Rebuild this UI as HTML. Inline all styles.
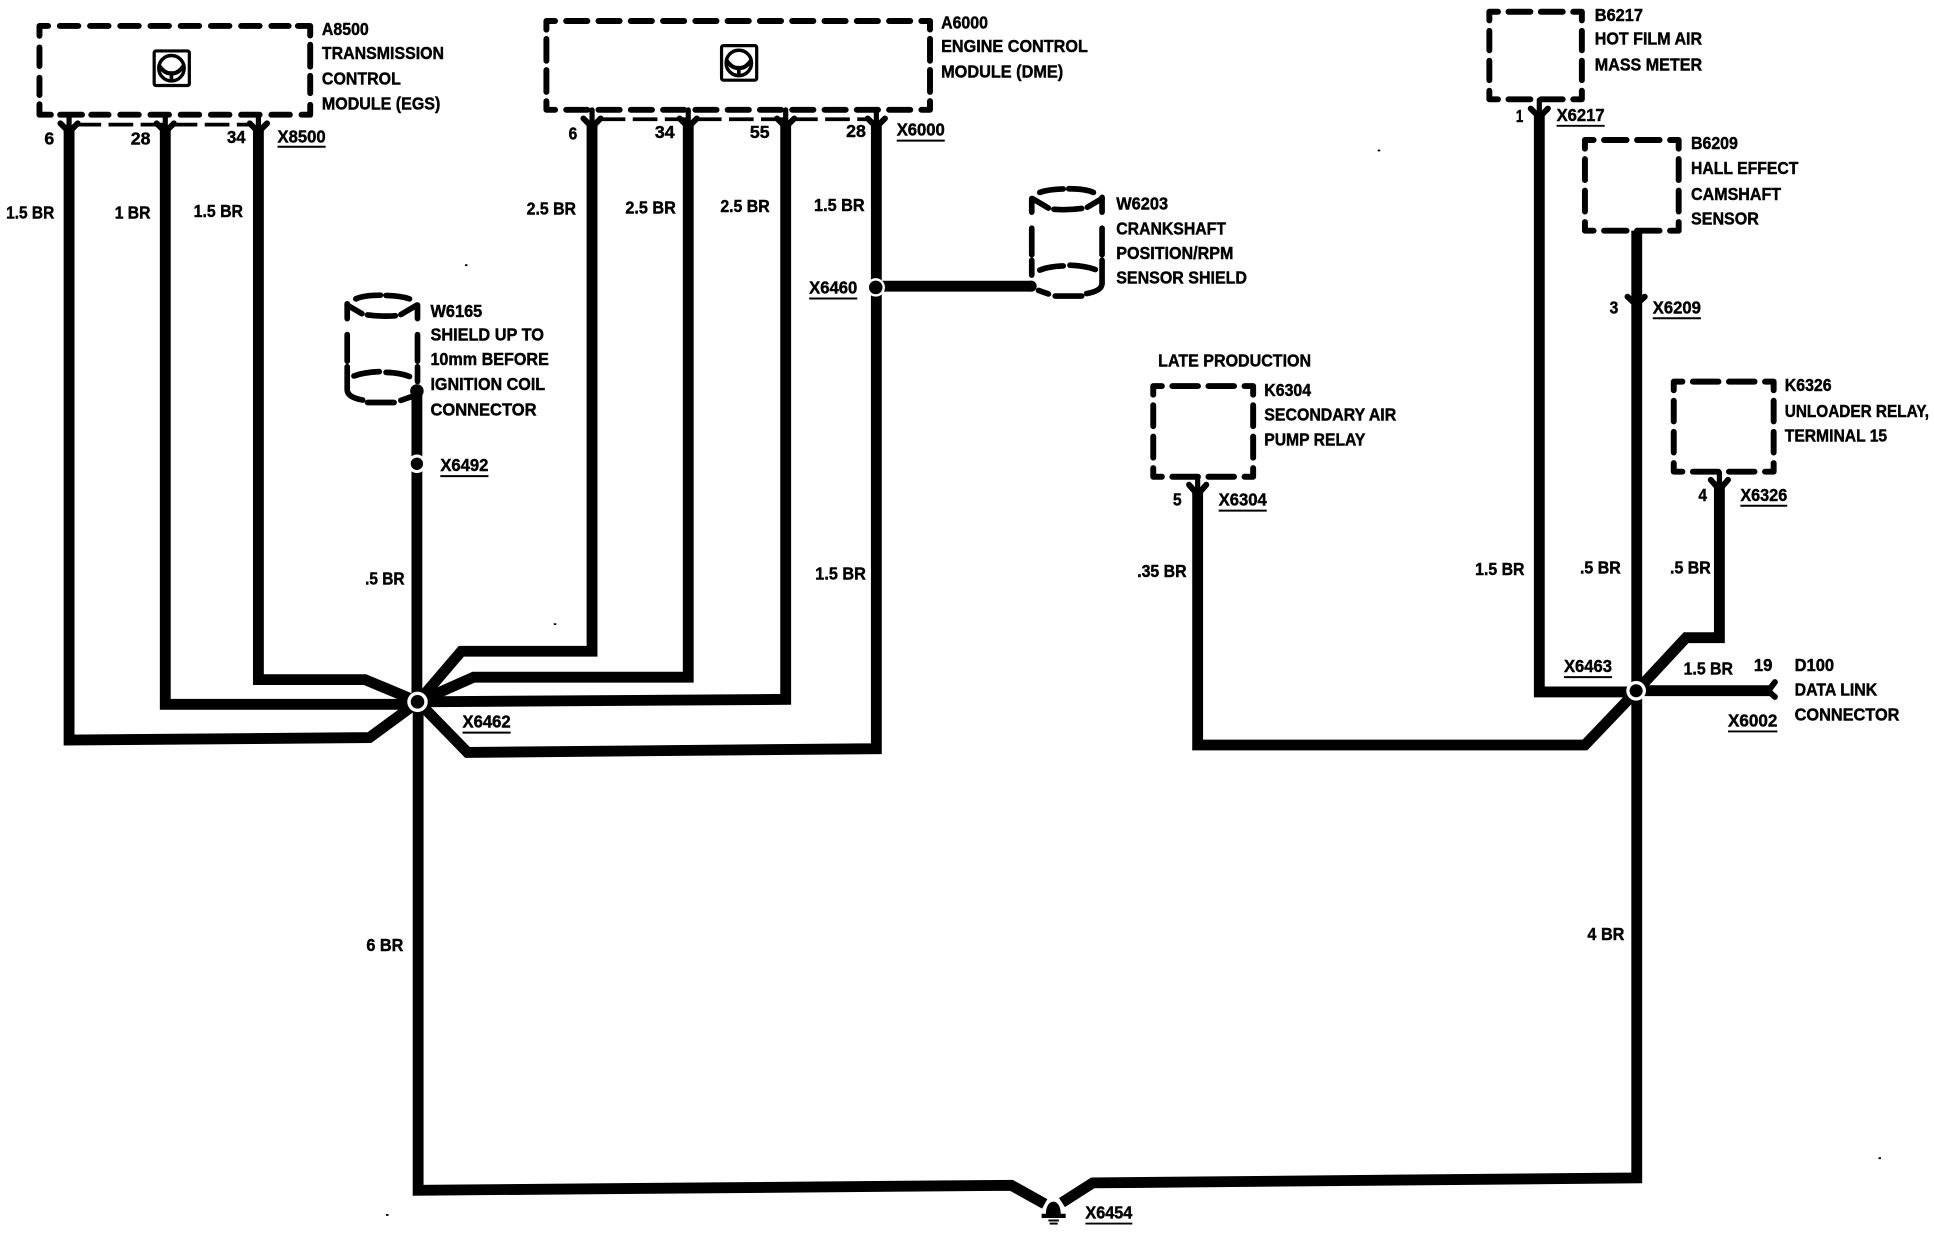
<!DOCTYPE html>
<html><head><meta charset="utf-8"><style>
html,body{margin:0;padding:0;background:#fff}
svg{display:block}
text{font-family:"Liberation Sans",sans-serif;font-weight:bold;font-size:14px;fill:#000;stroke:#000;stroke-width:.35}
.w{fill:none;stroke:#000;stroke-width:8.8;stroke-linejoin:miter}
.b{fill:none;stroke:#000;stroke-width:4.8;stroke-linecap:round;stroke-linejoin:round}
.c{fill:none;stroke:#000;stroke-width:4.6;stroke-linecap:round}
.d{fill:none;stroke:#000;stroke-width:3;stroke-dasharray:20 6}
.a{fill:none;stroke:#000;stroke-width:4.8;stroke-linecap:round;stroke-linejoin:miter}
.s{fill:none;stroke:#000;stroke-width:4.2;stroke-linecap:round}
.u{stroke:#000;stroke-width:1.6}
</style></head><body>
<svg width="1934" height="1248" viewBox="0 0 1568 1011.8" xmlns="http://www.w3.org/2000/svg">
<rect x="0" y="0" width="1568" height="1012" fill="#fff"/>
<!-- wires left star -->
<path class="w" d="M56 104V600L299.5 598L339 569"/>
<path class="w" d="M134 104V571H339"/>
<path class="w" d="M209.5 104V551H296L339 569"/>
<path class="w" d="M480 100V528H374L339 569"/>
<path class="w" d="M558 100V549H384L339 569"/>
<path class="w" d="M637 100V567L339 569"/>
<path class="w" d="M710.5 100V607L379 610L339 569"/>
<path class="w" d="M338 317V569"/>
<path class="w" d="M339 569V965L820 961L847 976"/>
<path class="w" d="M861 975L886 959L1327 955V187"/>
<path class="w" d="M710 232H836"/>
<!-- wires right -->
<path class="w" d="M1248 92V561H1327"/>
<path class="w" d="M971 398V604H1285L1327 560"/>
<path class="w" d="M1394 394V517H1367L1327 560"/>
<path class="w" d="M1327 560H1435"/>
<!-- boxes -->
<path class="b" d="M32 28V21H251.5V93H32Z" stroke-dasharray="14 9.5 15 9.5 15 9.5 15 9.5 15 9.5 15 9.5 15 9.5 15 9.5 14 7.5 17.75 7.5 17.75 7.5 14 9.5 15 9.5 15 9.5 15 9.5 15 9.5 15 9.5 15 9.5 15 9.5 14 7.5 17.75 7.5 17.75 7.5"/>
<path class="b" d="M443 24V17H754V89H443Z" stroke-dasharray="14 9 17.18 9 17.18 9 17.18 9 17.18 9 17.18 9 17.18 9 17.18 9 17.18 9 17.18 9 17.18 9 17.18 9 14 7.5 17.75 7.5 17.75 7.5 14 9 17.18 9 17.18 9 17.18 9 17.18 9 17.18 9 17.18 9 17.18 9 17.18 9 17.18 9 17.18 9 17.18 9 14 7.5 17.75 7.5 17.75 7.5"/>
<path class="b" d="M1207.5 16.5V9.5H1282.5V80.5H1207.5Z" stroke-dasharray="14 8.5 17.75 8.5 17.75 8.5 14 8.5 15.75 8.5 15.75 8.5 14 8.5 17.75 8.5 17.75 8.5 14 8.5 15.75 8.5 15.75 8.5"/>
<path class="b" d="M1285 120.5V113.5H1361V187H1285Z" stroke-dasharray="14 8.5 18.25 8.5 18.25 8.5 14 8.5 17 8.5 17 8.5 14 8.5 18.25 8.5 18.25 8.5 14 8.5 17 8.5 17 8.5"/>
<path class="b" d="M935 320V313H1016V386.5H935Z" stroke-dasharray="14 8.5 20.75 8.5 20.75 8.5 14 8.5 17 8.5 17 8.5 14 8.5 20.75 8.5 20.75 8.5 14 8.5 17 8.5 17 8.5"/>
<path class="b" d="M1357 316.4V309.4H1438V382.4H1357Z" stroke-dasharray="14 8.5 20.75 8.5 20.75 8.5 14 8.5 16.75 8.5 16.75 8.5 14 8.5 20.75 8.5 20.75 8.5 14 8.5 16.75 8.5 16.75 8.5"/>
<path class="d" d="M62 101H205"/>
<path class="d" d="M487 96.7H704"/>
<!-- cylinder W6203 -->
<g id="cyl">
<path class="c" d="M843 156Q850 153.5 862 153.2M866.5 153Q880 153 886.5 156"/>
<path class="c" d="M837 161L850 168.7M854.5 169.7Q866 170.5 877 169M881.6 168L893.5 161"/>
<path class="c" d="M836.5 161V172M836.5 185V206.5M836.5 211V223"/>
<path class="c" d="M893.5 160V172M893.5 185V206.5M893.5 211V230Q893 236 881 238"/>
<path class="c" d="M843 219Q850 216 862 215.6M867.5 215Q880 215.5 888 218.5"/>
<path class="c" d="M842 235.5L850 238.3M855.5 240H877"/>
</g>
<g transform="translate(1175,86.3) scale(-1,1)">
<path class="c" d="M843 156Q850 153.5 862 153.2M866.5 153Q880 153 886.5 156"/>
<path class="c" d="M837 161L850 168.7M854.5 169.7Q866 170.5 877 169M881.6 168L893.5 161"/>
<path class="c" d="M836.5 161V172M836.5 185V206.5M836.5 211V223"/>
<path class="c" d="M893.5 160V172M893.5 185V206.5M893.5 211V230Q893 236 881 238"/>
<path class="c" d="M843 219Q850 216 862 215.6M867.5 215Q880 215.5 888 218.5"/>
<path class="c" d="M842 235.5L850 238.3M855.5 240H877"/>
</g>
<!-- icons -->
<g fill="none" stroke="#000">
<rect x="585" y="37" width="28.5" height="28" rx="1.5" stroke-width="2.6"/>
<circle cx="599" cy="51" r="10.3" stroke-width="2.8"/>
<path d="M589 49Q594 56 599 55Q604 56 609 49" stroke-width="3.4"/><path d="M599 54V62" stroke-width="3"/>
</g>
<g fill="none" stroke="#000" transform="translate(-460,4.3)">
<rect x="585" y="37" width="28.5" height="28" rx="1.5" stroke-width="2.6"/>
<circle cx="599" cy="51" r="10.3" stroke-width="2.8"/>
<path d="M589 49Q594 56 599 55Q604 56 609 49" stroke-width="3.4"/><path d="M599 54V62" stroke-width="3"/>
</g>
<!-- forks -->
<path class="a" d="M49 100L56 107L63 100M127 100L134 107L141 100M202.5 100L209.5 107L216.5 100"/>
<path class="s" d="M56 93V102M134 93V102M209.5 93V102"/>
<path class="a" d="M473 96L480 103L487 96M551 96L558 103L565 96M630 96L637 103L644 96M703.5 96L710.5 103L717.5 96"/>
<path class="s" d="M480 89V98M558 89V98M637 89V98M710.5 89V98"/>
<path class="a" d="M1241 88L1248 95L1255 88"/><path class="s" d="M1248 81V90"/>
<path class="a" d="M1319.5 240.5L1326.5 247L1333.5 240.5"/>
<path class="a" d="M964 393L971 401L978 393"/><path class="s" d="M971 387V396"/>
<path class="a" d="M1387 389L1394 397L1401 389"/><path class="s" d="M1394 383V392"/>
<path class="a" d="M1439 553L1434.5 559V561L1439 565"/>
<!-- junctions -->
<circle cx="338.5" cy="569" r="8.3" fill="#fff"/><circle cx="338.5" cy="569" r="5.5" fill="#000"/>
<circle cx="1326.5" cy="560" r="8" fill="#fff"/><circle cx="1326.5" cy="560" r="5.3" fill="#000"/>
<circle cx="338" cy="317" r="5.5" fill="#000"/>
<circle cx="338" cy="376" r="7.5" fill="#fff"/><circle cx="338" cy="376" r="5" fill="#000"/>
<circle cx="710" cy="233" r="7.5" fill="#fff"/><circle cx="710" cy="233" r="5.5" fill="#000"/>
<circle cx="836" cy="232" r="4.5" fill="#000"/>
<!-- ground -->
<path d="M848 984C848 971 860 971 860 984H864V987.5H844.5V984Z" fill="#000"/>
<path d="M850 989.5H858.5" stroke="#000" stroke-width="1.6"/><path d="M851 992H857.5" stroke="#000" stroke-width="1.6"/>
<!-- specks -->
<path d="M1117 122h2M1523 939h2M313 985h2M377 215h2M449 506h2" stroke="#000" stroke-width="1.5"/>
<!-- labels -->
<text x="261" y="28.4" textLength="38" lengthAdjust="spacingAndGlyphs">A8500</text>
<text x="261" y="48" textLength="99" lengthAdjust="spacingAndGlyphs">TRANSMISSION</text>
<text x="261" y="68.5" textLength="64" lengthAdjust="spacingAndGlyphs">CONTROL</text>
<text x="261" y="88.6" textLength="96" lengthAdjust="spacingAndGlyphs">MODULE (EGS)</text>
<text x="225" y="115.5" textLength="39" lengthAdjust="spacingAndGlyphs">X8500</text><path class="u" d="M225 119H264"/>
<text x="36" y="117" textLength="8" lengthAdjust="spacingAndGlyphs">6</text>
<text x="106" y="117" textLength="16" lengthAdjust="spacingAndGlyphs">28</text>
<text x="184" y="116" textLength="15" lengthAdjust="spacingAndGlyphs">34</text>
<text x="5" y="177" textLength="39" lengthAdjust="spacingAndGlyphs">1.5 BR</text>
<text x="93" y="177" textLength="29" lengthAdjust="spacingAndGlyphs">1 BR</text>
<text x="157" y="176" textLength="40" lengthAdjust="spacingAndGlyphs">1.5 BR</text>
<text x="427" y="174" textLength="40" lengthAdjust="spacingAndGlyphs">2.5 BR</text>
<text x="507" y="173" textLength="41" lengthAdjust="spacingAndGlyphs">2.5 BR</text>
<text x="584" y="172" textLength="40" lengthAdjust="spacingAndGlyphs">2.5 BR</text>
<text x="660" y="171" textLength="41" lengthAdjust="spacingAndGlyphs">1.5 BR</text>
<text x="763" y="23" textLength="38" lengthAdjust="spacingAndGlyphs">A6000</text>
<text x="763" y="42" textLength="119" lengthAdjust="spacingAndGlyphs">ENGINE CONTROL</text>
<text x="763" y="63" textLength="99" lengthAdjust="spacingAndGlyphs">MODULE (DME)</text>
<text x="727" y="110" textLength="39" lengthAdjust="spacingAndGlyphs">X6000</text><path class="u" d="M727 114H766"/>
<text x="461" y="113" textLength="7" lengthAdjust="spacingAndGlyphs">6</text>
<text x="531" y="112" textLength="16" lengthAdjust="spacingAndGlyphs">34</text>
<text x="608" y="112" textLength="16" lengthAdjust="spacingAndGlyphs">55</text>
<text x="686" y="111" textLength="16" lengthAdjust="spacingAndGlyphs">28</text>
<text x="905" y="170" textLength="42" lengthAdjust="spacingAndGlyphs">W6203</text>
<text x="905" y="190" textLength="89" lengthAdjust="spacingAndGlyphs">CRANKSHAFT</text>
<text x="905" y="210" textLength="95" lengthAdjust="spacingAndGlyphs">POSITION/RPM</text>
<text x="905" y="230" textLength="106" lengthAdjust="spacingAndGlyphs">SENSOR SHIELD</text>
<text x="656" y="238" textLength="39" lengthAdjust="spacingAndGlyphs">X6460</text><path class="u" d="M656 242H695"/>
<text x="349" y="257" textLength="42" lengthAdjust="spacingAndGlyphs">W6165</text>
<text x="349" y="276" textLength="92" lengthAdjust="spacingAndGlyphs">SHIELD UP TO</text>
<text x="349" y="296" textLength="96" lengthAdjust="spacingAndGlyphs">10mm BEFORE</text>
<text x="349" y="316" textLength="93" lengthAdjust="spacingAndGlyphs">IGNITION COIL</text>
<text x="349" y="337" textLength="86" lengthAdjust="spacingAndGlyphs">CONNECTOR</text>
<text x="357" y="382" textLength="39" lengthAdjust="spacingAndGlyphs">X6492</text><path class="u" d="M357 386H396"/>
<text x="296" y="474" textLength="32" lengthAdjust="spacingAndGlyphs">.5 BR</text>
<text x="661" y="470" textLength="41" lengthAdjust="spacingAndGlyphs">1.5 BR</text>
<text x="375" y="590" textLength="39" lengthAdjust="spacingAndGlyphs">X6462</text><path class="u" d="M375 594H414"/>
<text x="297" y="771" textLength="30" lengthAdjust="spacingAndGlyphs">6 BR</text>
<text x="880" y="988" textLength="38" lengthAdjust="spacingAndGlyphs">X6454</text><path class="u" d="M880 992H918"/>
<text x="939" y="297" textLength="124" lengthAdjust="spacingAndGlyphs">LATE PRODUCTION</text>
<text x="1025" y="321" textLength="38" lengthAdjust="spacingAndGlyphs">K6304</text>
<text x="1025" y="341" textLength="107" lengthAdjust="spacingAndGlyphs">SECONDARY AIR</text>
<text x="1025" y="361" textLength="82" lengthAdjust="spacingAndGlyphs">PUMP RELAY</text>
<text x="951" y="410" textLength="7" lengthAdjust="spacingAndGlyphs">5</text>
<text x="988" y="410" textLength="39" lengthAdjust="spacingAndGlyphs">X6304</text><path class="u" d="M988 414H1027"/>
<text x="922" y="468" textLength="40" lengthAdjust="spacingAndGlyphs">.35 BR</text>
<text x="1293" y="17" textLength="39" lengthAdjust="spacingAndGlyphs">B6217</text>
<text x="1293" y="36" textLength="87" lengthAdjust="spacingAndGlyphs">HOT FILM AIR</text>
<text x="1293" y="57" textLength="87" lengthAdjust="spacingAndGlyphs">MASS METER</text>
<text x="1229" y="99" textLength="6" lengthAdjust="spacingAndGlyphs">1</text>
<text x="1262" y="98" textLength="39" lengthAdjust="spacingAndGlyphs">X6217</text><path class="u" d="M1262 102H1301"/>
<text x="1196" y="466" textLength="40" lengthAdjust="spacingAndGlyphs">1.5 BR</text>
<text x="1268" y="545" textLength="39" lengthAdjust="spacingAndGlyphs">X6463</text><path class="u" d="M1268 549H1307"/>
<text x="1371" y="121" textLength="38" lengthAdjust="spacingAndGlyphs">B6209</text>
<text x="1371" y="141" textLength="87" lengthAdjust="spacingAndGlyphs">HALL EFFECT</text>
<text x="1371" y="162" textLength="73" lengthAdjust="spacingAndGlyphs">CAMSHAFT</text>
<text x="1371" y="182" textLength="55" lengthAdjust="spacingAndGlyphs">SENSOR</text>
<text x="1305" y="254" textLength="7" lengthAdjust="spacingAndGlyphs">3</text>
<text x="1340" y="254" textLength="39" lengthAdjust="spacingAndGlyphs">X6209</text><path class="u" d="M1340 258H1379"/>
<text x="1281" y="465" textLength="33" lengthAdjust="spacingAndGlyphs">.5 BR</text>
<text x="1447" y="317" textLength="38" lengthAdjust="spacingAndGlyphs">K6326</text>
<text x="1447" y="338" textLength="117" lengthAdjust="spacingAndGlyphs">UNLOADER RELAY,</text>
<text x="1447" y="358" textLength="83" lengthAdjust="spacingAndGlyphs">TERMINAL 15</text>
<text x="1377" y="406" textLength="7" lengthAdjust="spacingAndGlyphs">4</text>
<text x="1411" y="406" textLength="38" lengthAdjust="spacingAndGlyphs">X6326</text><path class="u" d="M1411 410H1449"/>
<text x="1354" y="465" textLength="33" lengthAdjust="spacingAndGlyphs">.5 BR</text>
<text x="1365" y="547" textLength="40" lengthAdjust="spacingAndGlyphs">1.5 BR</text>
<text x="1422" y="544" textLength="15" lengthAdjust="spacingAndGlyphs">19</text>
<text x="1455" y="544" textLength="32" lengthAdjust="spacingAndGlyphs">D100</text>
<text x="1455" y="564" textLength="67" lengthAdjust="spacingAndGlyphs">DATA LINK</text>
<text x="1455" y="584" textLength="85" lengthAdjust="spacingAndGlyphs">CONNECTOR</text>
<text x="1401" y="589" textLength="40" lengthAdjust="spacingAndGlyphs">X6002</text><path class="u" d="M1401 593H1441"/>
<text x="1287" y="762" textLength="30" lengthAdjust="spacingAndGlyphs">4 BR</text>
</svg>
</body></html>
